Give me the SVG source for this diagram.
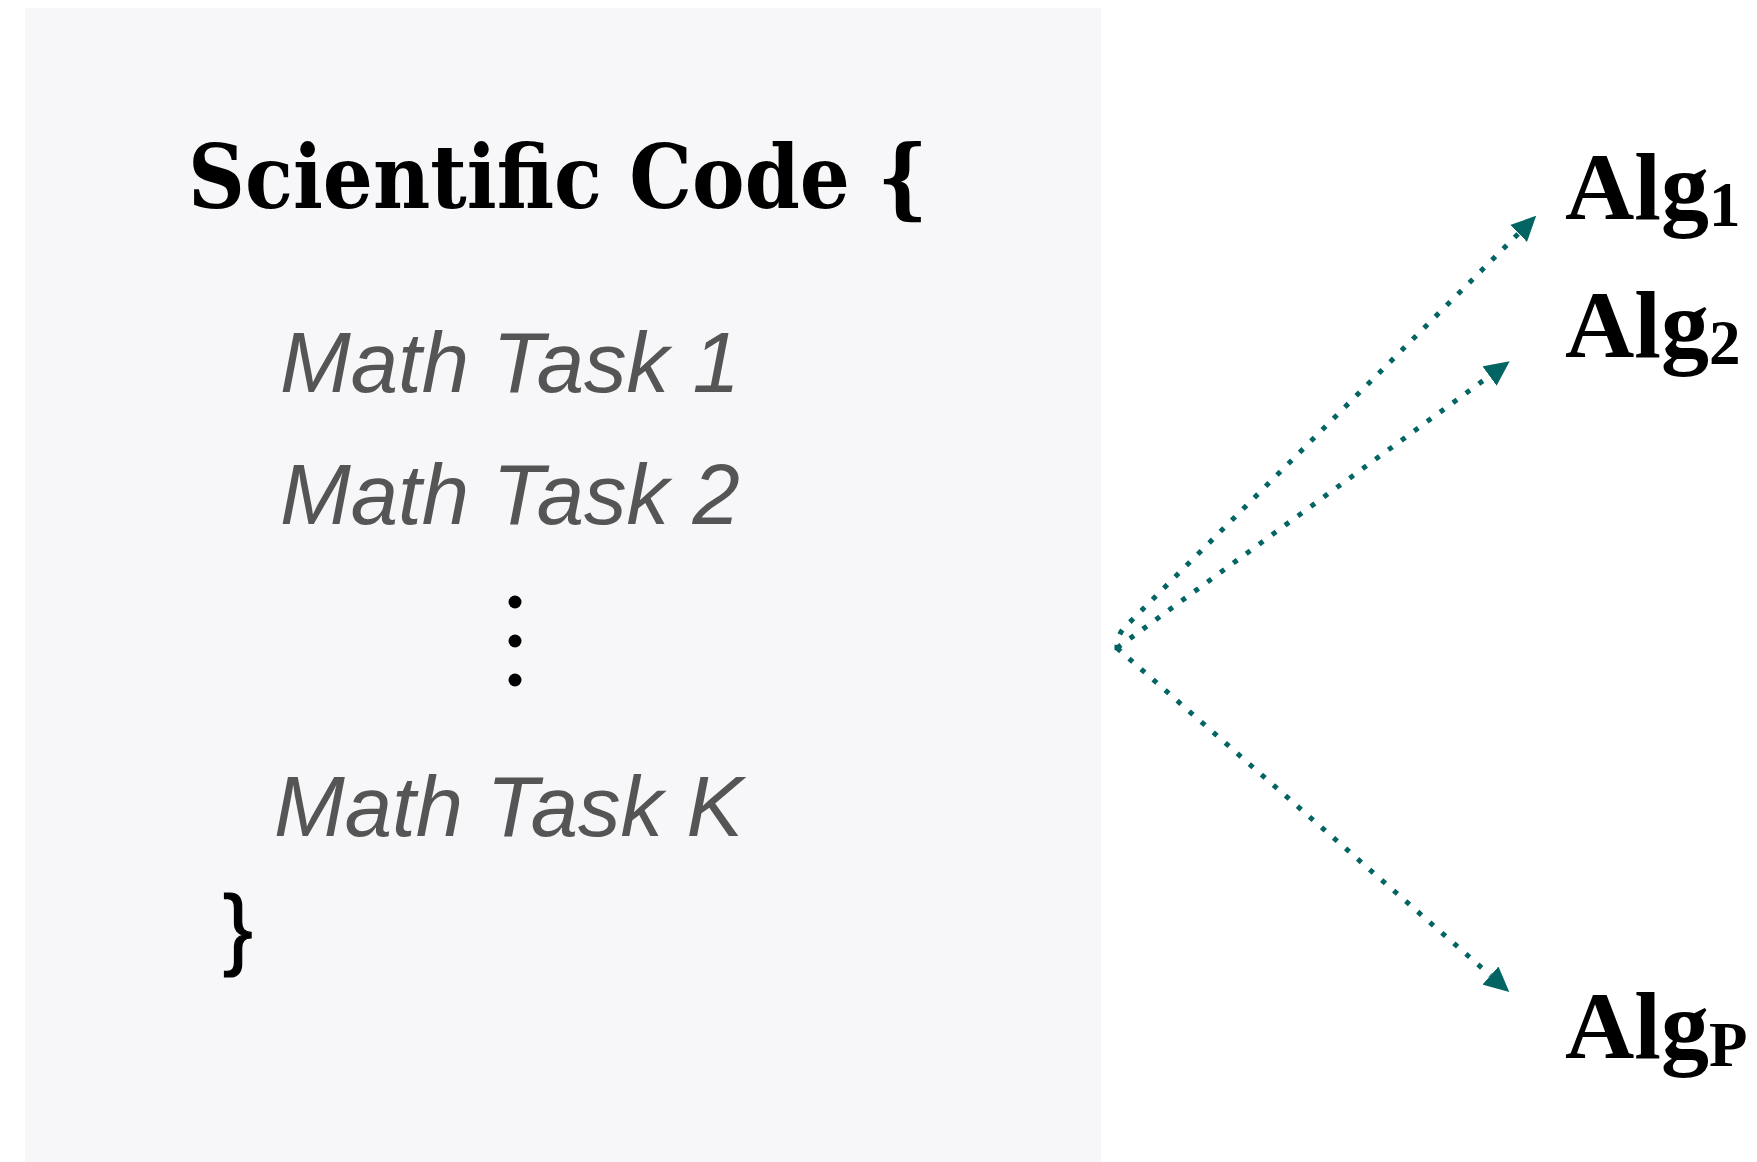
<svg xmlns="http://www.w3.org/2000/svg" width="1757" height="1162" viewBox="0 0 1757 1162">
<style>
.title{font-family:"DejaVu Serif Condensed","DejaVu Serif",serif;font-weight:bold;font-size:88px;fill:#000}
.task{font-family:"Liberation Sans",Arial,sans-serif;font-style:italic;font-size:85px;fill:#555555}
.brace{font-family:"Liberation Sans",Arial,sans-serif;font-size:89px;fill:#000;stroke:#000;stroke-width:1.2}
.alg{font-family:"Liberation Serif","Times New Roman",serif;font-weight:bold;font-size:96px;fill:#000}
.sub{font-size:63px}
.conn{fill:none;stroke:#036464;stroke-width:5;stroke-dasharray:5 11}
</style>
<defs>
<marker id="ah" viewBox="0 0 25 24" refX="0" refY="12" markerWidth="25" markerHeight="24" orient="auto" markerUnits="userSpaceOnUse">
<path d="M0,0 L25,12 L0,24 Z" fill="#036464"/>
</marker>
</defs>
<rect x="25" y="8" width="1076" height="1154" fill="#f7f7f9"/>
<g id="code">
<text class="title" x="188" y="208" textLength="740" lengthAdjust="spacingAndGlyphs">Scientific Code {</text>
</g>
<g id="task1"><text class="task" x="280" y="392">Math Task 1</text></g>
<g id="task2"><text class="task" x="280" y="524">Math Task 2</text></g>
<g id="ellipsis">
<circle cx="515" cy="602" r="6.5" fill="#000"/>
<circle cx="515" cy="641" r="6.5" fill="#000"/>
<circle cx="515" cy="680" r="6.5" fill="#000"/>
</g>
<g id="taskK"><text class="task" x="274" y="836">Math Task K</text></g>
<g id="close"><text class="brace" x="223" y="958">}</text></g>
<g id="alg1"><text class="alg" x="1565" y="219">Alg<tspan class="sub" dy="7">1</tspan></text></g>
<g id="alg2"><text class="alg" x="1565" y="357">Alg<tspan class="sub" dy="7">2</tspan></text></g>
<g id="algP"><text class="alg" x="1565" y="1058">Alg<tspan class="sub" dy="8">P</tspan></text></g>
<g id="connectors">
<path class="conn" d="M1117,650 Q1116,634 1128,624 L1518.5,233.5" marker-end="url(#ah)"/>
<path class="conn" d="M1117,648 L1489.5,376" marker-end="url(#ah)"/>
<path class="conn" d="M1117,648 L1490.5,975.5" marker-end="url(#ah)"/>
</g>
</svg>
